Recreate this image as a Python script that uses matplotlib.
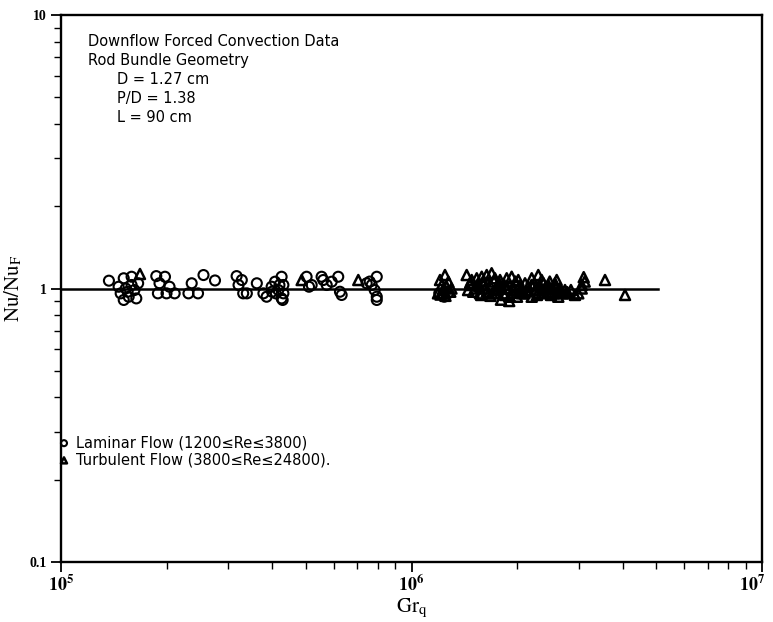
import matplotlib.pyplot as plt
import matplotlib.transforms as mtransforms
import numpy as np

# Laminar flow points (Gr_q, Nu/Nu_F)
lam_gr = [1.37e5, 1.51e5, 1.59e5, 1.53e5, 1.48e5, 1.56e5, 1.62e5, 1.64e5, 1.51e5, 1.59e5,
          1.66e5, 1.55e5, 1.46e5,
          1.87e5, 1.98e5, 1.91e5, 2.04e5, 1.89e5, 2.00e5, 2.11e5,
          2.31e5, 2.36e5, 2.46e5, 2.55e5, 2.75e5, 3.17e5, 3.21e5, 3.28e5, 3.31e5, 3.39e5,
          3.62e5, 3.78e5, 3.86e5, 3.99e5, 4.08e5, 4.17e5, 4.26e5, 4.26e5, 4.00e5, 4.10e5, 4.20e5,
          4.31e5, 4.31e5, 4.29e5, 5.02e5, 5.19e5, 5.10e5,
          5.54e5, 5.60e5, 5.73e5, 5.92e5, 6.18e5, 6.25e5, 6.32e5,
          7.45e5, 7.70e5, 7.96e5, 7.85e5, 7.96e5, 7.96e5, 7.60e5,
          1.20e6, 1.23e6, 1.27e6, 1.24e6]
lam_nu = [1.068, 1.09, 1.104, 1.0, 0.96, 0.933, 0.987, 0.92, 0.908, 1.03,
          1.045, 0.973, 1.015,
          1.11, 1.104, 1.045, 1.015, 0.96, 0.96, 0.96,
          0.96, 1.045, 0.96, 1.12, 1.07, 1.11, 1.03, 1.074, 0.96, 0.96,
          1.045, 0.96, 0.933, 1.015, 1.059, 0.987, 1.104, 0.92, 0.973, 0.96, 1.03,
          1.03, 0.96, 0.908, 1.104, 1.03, 1.015,
          1.104, 1.074, 1.03, 1.059, 1.104, 0.973, 0.947,
          1.045, 1.03, 1.104, 0.987, 0.933, 0.908, 1.06,
          0.96, 0.947, 0.96, 0.933]

# Turbulent flow points
tur_gr = [1.68e5, 4.86e5, 7.05e5,
          1.19e6, 1.206e6, 1.246e6, 1.274e6, 1.22e6, 1.26e6, 1.23e6, 1.29e6, 1.30e6,
          1.437e6, 1.468e6, 1.485e6, 1.50e6, 1.535e6, 1.551e6, 1.568e6, 1.586e6, 1.639e6,
          1.675e6, 1.693e6, 1.73e6, 1.75e6, 1.789e6, 1.828e6, 1.869e6, 1.91e6, 1.931e6,
          2.017e6, 2.063e6, 2.108e6, 2.203e6, 2.203e6, 2.30e6, 2.352e6, 2.352e6, 2.456e6,
          2.456e6, 2.567e6, 2.596e6, 2.623e6, 2.741e6, 2.80e6, 2.927e6, 2.991e6, 3.059e6,
          3.059e6, 3.10e6, 3.12e6,
          1.62e6, 1.70e6, 1.80e6, 1.88e6, 1.95e6, 2.05e6, 2.15e6, 2.25e6, 2.40e6, 2.50e6,
          2.65e6, 2.70e6, 1.58e6, 1.45e6, 1.52e6, 1.66e6, 1.78e6, 1.85e6, 2.00e6, 2.10e6,
          2.28e6, 2.38e6, 2.55e6, 2.85e6, 1.80e6, 1.90e6,
          1.60e6, 1.72e6, 1.98e6, 2.20e6, 2.33e6, 2.48e6, 2.62e6, 1.25e6, 1.21e6,
          1.47e6, 1.56e6, 1.64e6, 1.76e6, 1.84e6, 1.93e6, 2.03e6, 2.13e6, 2.24e6, 2.36e6,
          2.44e6, 2.58e6, 2.68e6, 2.78e6, 1.68e6, 1.87e6, 2.08e6, 2.30e6,
          3.565e6, 4.066e6]
tur_nu = [1.13, 1.074, 1.074,
          0.96, 1.074, 1.12, 1.059, 1.03, 1.015, 0.987, 0.973, 1.0,
          1.12, 1.03, 1.074, 0.973, 1.09, 1.045, 0.96, 1.104, 1.12,
          1.03, 1.137, 1.09, 0.987, 1.074, 0.96, 1.09, 0.933, 1.104,
          1.074, 0.96, 1.045, 1.09, 0.933, 1.12, 1.074, 0.96, 1.03,
          0.973, 1.045, 1.074, 0.933, 0.987, 0.96, 0.947, 0.96, 1.03,
          1.0, 1.10, 1.06,
          1.0, 0.96, 1.015, 1.0, 0.987, 1.0, 1.015, 0.987, 1.0, 0.947,
          1.0, 0.96, 0.947, 0.987, 1.0, 0.96, 1.045, 0.947, 0.933, 0.96,
          0.947, 1.045, 0.96, 0.987, 0.91, 0.90,
          1.06, 1.06, 1.06, 1.03, 1.015, 1.06, 0.987, 0.94, 0.95,
          1.05, 1.02, 0.975, 1.0, 1.03, 0.965, 1.02, 0.975, 1.04, 0.99,
          1.015, 1.02, 0.975, 0.97, 0.94, 1.0, 0.985, 0.965,
          1.074, 0.947]

# reference line Nu/Nu_F = 1
line_gr = [1e5, 5.06e6]
line_nu = [1.0, 1.0]

plt.rcParams['mathtext.fontset'] = 'stix'
fig = plt.figure(figsize=(7.73, 6.22), dpi=100)
ax = fig.add_axes([61/773, 1-562/622, 701/773, 547/622])

ax.plot(line_gr, line_nu, color='black', lw=1.8, zorder=1)
ax.scatter(lam_gr, lam_nu, s=52, facecolors='none', edgecolors='black',
           linewidths=1.5, marker='o', zorder=2, label='Laminar Flow (1200≤Re≤3800)')
ax.scatter(tur_gr, tur_nu, s=52, facecolors='none', edgecolors='black',
           linewidths=1.8, marker='^', zorder=2, label='Turbulent Flow (3800≤Re≤24800).')

ax.set_xscale('log')
ax.set_yscale('log')
ax.set_xlim(1e5, 1e7)
ax.set_ylim(0.1, 10)

ax.set_xticks([1e5, 1e6, 1e7])
ax.set_xticklabels([r'$\mathbf{10^5}$', r'$\mathbf{10^6}$', r'$\mathbf{10^7}$'], fontsize=13)
ax.set_yticks([0.1, 1, 10])
ax.set_yticklabels(['0.1', '1', '10'], fontfamily='Liberation Serif',
                   fontweight='bold', fontsize=10)
ax.tick_params(which='major', direction='out', length=7, width=1.3)
ax.tick_params(which='minor', direction='out', length=5, width=1.0)
ax.tick_params(axis='y', which='minor', labelleft=False)
ax.tick_params(axis='x', which='minor', labelbottom=False)
ax.tick_params(axis='x', which='major', pad=2)
for s in ax.spines.values():
    s.set_linewidth(1.7)

# pull the 10^7 label in a little so it stays inside the picture
last = ax.get_xticklabels()[-1]
last.set_transform(last.get_transform() +
                   mtransforms.ScaledTranslation(-7/72, 0, fig.dpi_scale_trans))

ax.set_xlabel(r'$\mathrm{Gr}_{\mathrm{q}}$', fontsize=15, labelpad=1)
ax.set_ylabel(r'$\mathrm{Nu/Nu}_{\mathrm{F}}$', fontsize=15, labelpad=4)

# annotation block
tx = (88 - 61) / 701
ix = (117 - 61) / 701
ax.text(tx, (562-42)/547, 'Downflow Forced Convection Data', transform=ax.transAxes,
        fontsize=10.5, va='center')
ax.text(tx, (562-61)/547, 'Rod Bundle Geometry', transform=ax.transAxes,
        fontsize=10.5, va='center')
ax.text(ix, (562-80)/547, 'D = 1.27 cm', transform=ax.transAxes, fontsize=10.5, va='center')
ax.text(ix, (562-99)/547, 'P/D = 1.38', transform=ax.transAxes, fontsize=10.5, va='center')
ax.text(ix, (562-118)/547, 'L = 90 cm', transform=ax.transAxes, fontsize=10.5, va='center')

ax.legend(loc='upper left', bbox_to_anchor=(-0.002, (562-435)/547), frameon=False,
          handlelength=0.6, handletextpad=0.5, borderaxespad=0, borderpad=0,
          labelspacing=0.15, markerscale=0.6, fontsize=10.5)

fig.savefig('out.png', dpi=100)
